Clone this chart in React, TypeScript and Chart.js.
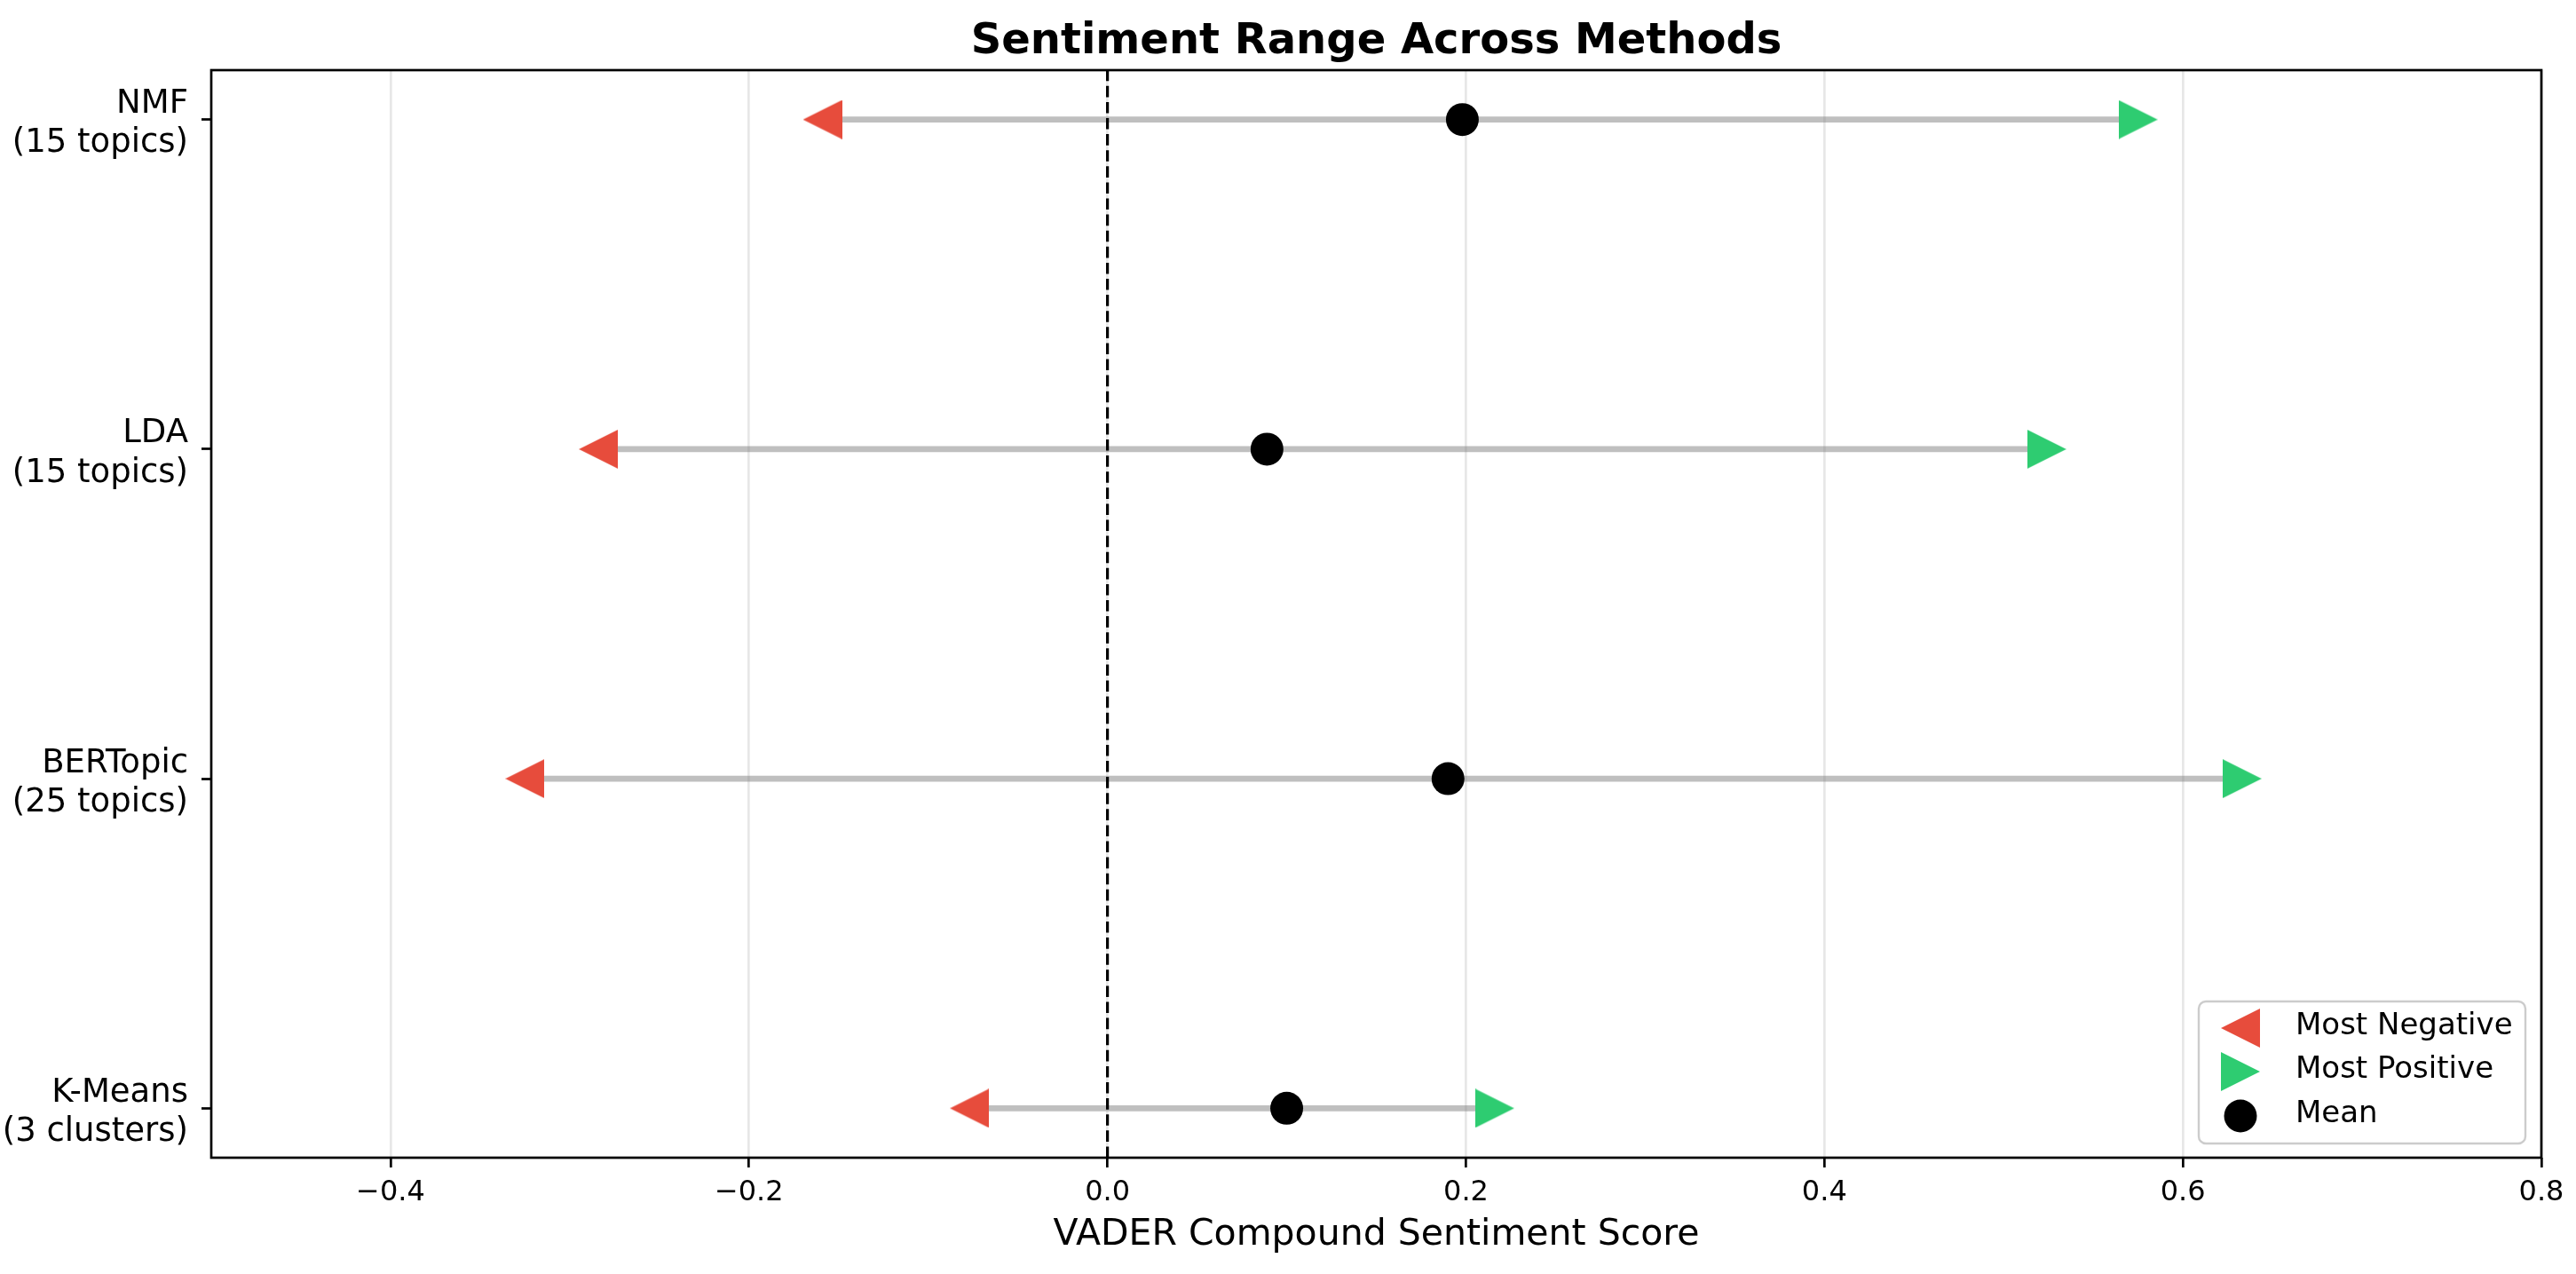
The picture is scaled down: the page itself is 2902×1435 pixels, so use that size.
import React, { useEffect, useRef } from 'react';
import { Chart, registerables } from 'chart.js';

Chart.register(...registerables);

// ---- data ----
const methodLabels: string[][] = [
  ['NMF', '(15 topics)'],
  ['LDA', '(15 topics)'],
  ['BERTopic', '(25 topics)'],
  ['K-Means', '(3 clusters)'],
];
const mostNegative = [-0.159, -0.284, -0.325, -0.077];
const meanScores = [0.198, 0.089, 0.19, 0.1];
const mostPositive = [0.575, 0.524, 0.633, 0.216];
const xTickValues = [-0.4, -0.2, 0.0, 0.2, 0.4, 0.6, 0.8];
const xTickLabels = ['\u22120.4', '\u22120.2', '0.0', '0.2', '0.4', '0.6', '0.8'];
const legendLabels = ['Most Negative', 'Most Positive', 'Mean'];
const zeroLineX = 0;

const X_MIN = -0.5;
const X_MAX = 0.8;
const Y_MIN = -0.15;
const Y_MAX = 3.15;

const RED = '#e74c3c';
const GREEN = '#2ecc71';
const FONT = '"DejaVu Sans", sans-serif';
const TRI = 44;
const DOT_R = 18.5;

function makeTriangle(dir: 'left' | 'right', color: string, size: number) {
  const c = document.createElement('canvas');
  c.width = size;
  c.height = size;
  const ctx = c.getContext('2d')!;
  ctx.fillStyle = color;
  ctx.beginPath();
  if (dir === 'right') {
    ctx.moveTo(0, 0);
    ctx.lineTo(size, size / 2);
    ctx.lineTo(0, size);
  } else {
    ctx.moveTo(size, 0);
    ctx.lineTo(0, size / 2);
    ctx.lineTo(size, size);
  }
  ctx.closePath();
  ctx.fill();
  return c;
}

export default function App() {
  const ref = useRef<HTMLCanvasElement | null>(null);

  useEffect(() => {
    if (!ref.current) return;
    const leftTri = makeTriangle('left', RED, TRI);
    const rightTri = makeTriangle('right', GREEN, TRI);

    const rangeDatasets = methodLabels.map((_, i) => ({
      type: 'line' as const,
      label: 'range' + i,
      data: [
        { x: mostNegative[i], y: i },
        { x: mostPositive[i], y: i },
      ],
      showLine: true,
      borderColor: 'rgba(128,128,128,0.5)',
      borderWidth: 6.8,
      pointRadius: 0,
      order: 3,
    }));

    const framePlugin = {
      id: 'frameAndLegend',
      afterLayout(chart: any) {
        const a = chart.chartArea;
        if (chart.titleBlock) {
          chart.titleBlock.left = a.left;
          chart.titleBlock.right = a.right;
        }
      },
      afterDraw(chart: any) {
        const ctx = chart.ctx as CanvasRenderingContext2D;
        const a = chart.chartArea;
        ctx.save();
        // frame
        ctx.strokeStyle = '#000';
        ctx.lineWidth = 2.7;
        ctx.strokeRect(a.left, a.top, a.right - a.left, a.bottom - a.top);

        // legend
        const w = 368;
        const h = 160;
        const x0 = a.right - 18 - w;
        const y0 = a.bottom - 16 - h;
        const r = 8;
        ctx.beginPath();
        ctx.moveTo(x0 + r, y0);
        ctx.arcTo(x0 + w, y0, x0 + w, y0 + h, r);
        ctx.arcTo(x0 + w, y0 + h, x0, y0 + h, r);
        ctx.arcTo(x0, y0 + h, x0, y0, r);
        ctx.arcTo(x0, y0, x0 + w, y0, r);
        ctx.closePath();
        ctx.fillStyle = 'rgba(255,255,255,0.8)';
        ctx.fill();
        ctx.strokeStyle = '#cccccc';
        ctx.lineWidth = 2.4;
        ctx.stroke();

        const rows = [30, 79, 129];
        const mx = x0 + 47;
        ctx.drawImage(leftTri, mx - TRI / 2, y0 + rows[0] - TRI / 2);
        ctx.drawImage(rightTri, mx - TRI / 2, y0 + rows[1] - TRI / 2);
        ctx.beginPath();
        ctx.arc(mx, y0 + rows[2], DOT_R, 0, Math.PI * 2);
        ctx.fillStyle = '#000';
        ctx.fill();

        ctx.font = `34px ${FONT}`;
        ctx.fillStyle = '#000';
        ctx.textAlign = 'left';
        ctx.textBaseline = 'middle';
        legendLabels.forEach((t, i) => {
          ctx.fillText(t, x0 + 109, y0 + rows[i] - 2);
        });
        ctx.restore();
      },
    };

    const chart = new Chart(ref.current, {
      type: 'scatter',
      data: {
        datasets: [
          {
            label: legendLabels[0],
            data: mostNegative.map((v, i) => ({ x: v, y: i })),
            pointStyle: leftTri as any,
            pointRadius: TRI / 2,
            order: 0,
          },
          {
            label: legendLabels[1],
            data: mostPositive.map((v, i) => ({ x: v, y: i })),
            pointStyle: rightTri as any,
            pointRadius: TRI / 2,
            order: 0,
          },
          {
            label: legendLabels[2],
            data: meanScores.map((v, i) => ({ x: v, y: i })),
            pointStyle: 'circle',
            pointRadius: DOT_R,
            backgroundColor: '#000',
            borderColor: '#000',
            borderWidth: 0,
            order: 0,
          },
          {
            type: 'line' as const,
            label: 'zero',
            data: [
              { x: zeroLineX, y: Y_MAX },
              { x: zeroLineX, y: Y_MIN },
            ],
            showLine: true,
            borderColor: '#000',
            borderWidth: 3.2,
            borderDash: [12.6, 5.5],
            pointRadius: 0,
            order: 1,
          },
          ...rangeDatasets,
        ] as any,
      },
      options: {
        animation: false,
        responsive: false,
        devicePixelRatio: 1,
        events: [],
        layout: { padding: { left: 0, right: 39, top: 0, bottom: 0 } },
        plugins: {
          legend: { display: false },
          tooltip: { enabled: false },
          title: {
            display: true,
            text: 'Sentiment Range Across Methods',
            color: '#000',
            font: { family: FONT, size: 48, weight: 'bold', lineHeight: 1.2 },
            padding: { top: 19, bottom: 2.4 },
          },
        },
        scales: {
          x: {
            type: 'linear',
            min: X_MIN,
            max: X_MAX,
            afterBuildTicks: (scale: any) => {
              scale.ticks = xTickValues.map((v) => ({ value: v }));
            },
            afterFit: (scale: any) => {
              scale.height = 131;
            },
            ticks: {
              autoSkip: false,
              maxRotation: 0,
              padding: 9,
              color: '#000',
              font: { family: FONT, size: 32, lineHeight: 1.2 },
              callback: (_v: any, i: number) => xTickLabels[i],
            },
            grid: {
              color: '#e7e7e7',
              lineWidth: 2.7,
              drawTicks: true,
              tickLength: 11,
              tickColor: '#000',
              tickWidth: 2.7,
            },
            border: { display: false },
            title: {
              display: true,
              text: 'VADER Compound Sentiment Score',
              color: '#000',
              font: { family: FONT, size: 41, lineHeight: 1.2 },
              padding: { top: 0, bottom: 19 },
            },
          },
          y: {
            type: 'linear',
            reverse: true,
            min: Y_MIN,
            max: Y_MAX,
            afterBuildTicks: (scale: any) => {
              scale.ticks = methodLabels.map((_, i) => ({ value: i }));
            },
            afterFit: (scale: any) => {
              scale.width = 238;
            },
            ticks: {
              autoSkip: false,
              padding: 15,
              labelOffset: 5,
              color: '#000',
              font: { family: FONT, size: 37, lineHeight: 1.2 },
              callback: (_v: any, i: number) => methodLabels[i],
            },
            grid: {
              drawOnChartArea: false,
              drawTicks: true,
              tickLength: 11,
              tickColor: '#000',
              tickWidth: 2.7,
            },
            border: { display: false },
          },
        },
      } as any,
      plugins: [framePlugin],
    });

    return () => chart.destroy();
  }, []);

  return (
    <div style={{ position: 'absolute', left: 0, top: 0, width: 2902, height: 1435, background: '#fff' }}>
      <canvas ref={ref} width={2902} height={1435} style={{ display: 'block', width: 2902, height: 1435 }} />
    </div>
  );
}
